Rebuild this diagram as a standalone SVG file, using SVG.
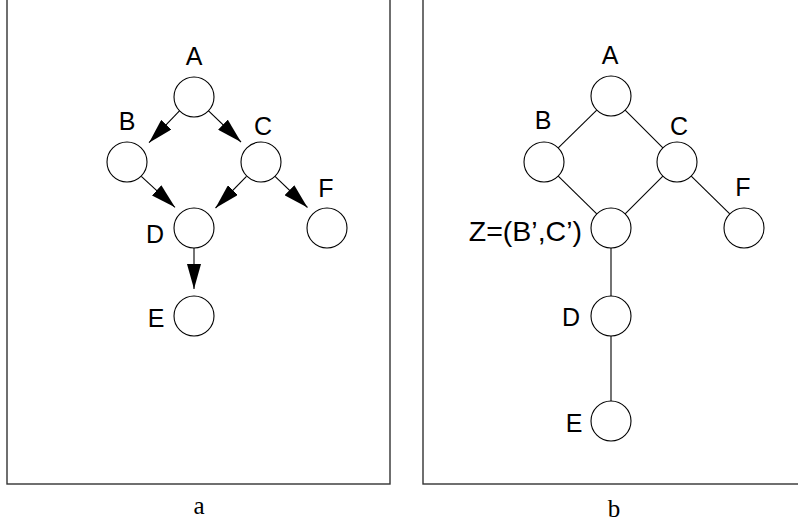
<svg xmlns="http://www.w3.org/2000/svg" width="798" height="525" viewBox="0 0 798 525">
<style>
.frame{fill:none;stroke:#333;stroke-width:1.4}
.node{fill:#fff;stroke:#000;stroke-width:1.1}
.edge{stroke:#000;stroke-width:1.1;fill:none}
.lbl{font-family:"Liberation Sans",Arial,sans-serif;font-size:25px;fill:#000;text-anchor:middle}
.cap{font-family:"Liberation Serif","Times New Roman",serif;font-size:25px;fill:#000;text-anchor:middle}
</style>
<defs>
<marker id="arr" viewBox="0 0 25 14" refX="25" refY="7" markerWidth="25" markerHeight="14" markerUnits="userSpaceOnUse" orient="auto">
<path d="M0,0 L25,7 L0,14 z" fill="#000"/>
</marker>
</defs>
<rect width="798" height="525" fill="#fff"/>
<rect class="frame" x="7" y="-10" width="383" height="494"/>
<rect class="frame" x="423" y="-10" width="400" height="494"/>
<g id="connectors">
<line class="edge" x1="179.7" y1="110.7" x2="149" y2="142.7" marker-end="url(#arr)"/>
<line class="edge" x1="208.3" y1="110.7" x2="241" y2="142" marker-end="url(#arr)"/>
<line class="edge" x1="141.3" y1="176.3" x2="175" y2="207.3" marker-end="url(#arr)"/>
<line class="edge" x1="246.5" y1="176.3" x2="215.5" y2="208" marker-end="url(#arr)"/>
<line class="edge" x1="275" y1="176.3" x2="307.5" y2="207.5" marker-end="url(#arr)"/>
<line class="edge" x1="194" y1="248" x2="194" y2="289" marker-end="url(#arr)"/>
<line class="edge" x1="596.75" y1="110.04" x2="558.25" y2="147.96"/>
<line class="edge" x1="625.14" y1="110.14" x2="662.86" y2="147.86"/>
<line class="edge" x1="558.25" y1="176.04" x2="596.75" y2="213.96"/>
<line class="edge" x1="662.86" y1="176.14" x2="625.14" y2="213.86"/>
<line class="edge" x1="691.25" y1="176.04" x2="729.75" y2="213.96"/>
<line class="edge" x1="611" y1="248" x2="611" y2="296"/>
<line class="edge" x1="611" y1="336" x2="611" y2="401"/>
</g>
<g id="a-A"><circle class="node" cx="194" cy="97" r="20"/><text class="lbl" x="194" y="65">A</text></g>
<g id="a-B"><circle class="node" cx="127" cy="162" r="20"/><text class="lbl" x="127" y="130">B</text></g>
<g id="a-C"><circle class="node" cx="261" cy="162" r="20"/><text class="lbl" x="263" y="135">C</text></g>
<g id="a-D"><circle class="node" cx="194" cy="228" r="20"/><text class="lbl" x="155" y="243">D</text></g>
<g id="a-F"><circle class="node" cx="327" cy="228" r="20"/><text class="lbl" x="326" y="197">F</text></g>
<g id="a-E"><circle class="node" cx="194" cy="316" r="20"/><text class="lbl" x="156" y="326.5">E</text></g>
<g id="b-A"><circle class="node" cx="611" cy="96" r="20"/><text class="lbl" x="610" y="64">A</text></g>
<g id="b-B"><circle class="node" cx="544" cy="162" r="20"/><text class="lbl" x="543" y="129">B</text></g>
<g id="b-C"><circle class="node" cx="677" cy="162" r="20"/><text class="lbl" x="679" y="135">C</text></g>
<g id="b-Z"><circle class="node" cx="611" cy="228" r="20"/><text class="lbl" x="582" y="240.5" style="font-size:28.5px;text-anchor:end">Z=(B’,C’)</text></g>
<g id="b-F"><circle class="node" cx="744" cy="228" r="20"/><text class="lbl" x="743" y="196">F</text></g>
<g id="b-D"><circle class="node" cx="611" cy="316" r="20"/><text class="lbl" x="571" y="326">D</text></g>
<g id="b-E"><circle class="node" cx="611" cy="421" r="20"/><text class="lbl" x="574" y="431.5">E</text></g>
<text class="cap" x="199" y="513.5">a</text>
<text class="cap" x="614" y="517">b</text>
</svg>
